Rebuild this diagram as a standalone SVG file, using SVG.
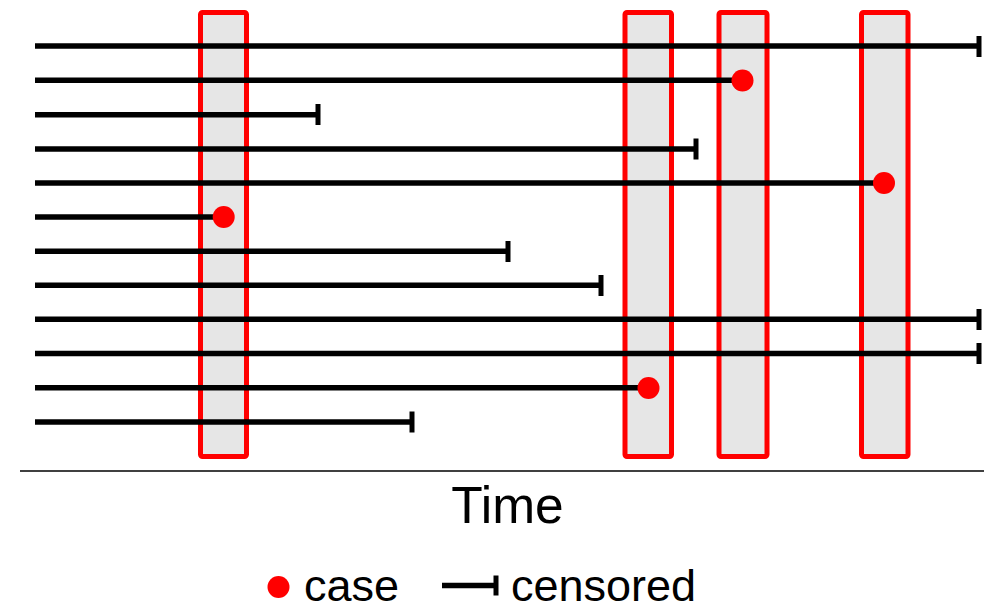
<svg xmlns="http://www.w3.org/2000/svg" width="984" height="611" viewBox="0 0 984 611">
<style>
.win{fill:#e6e6e6;stroke:#ff0000;stroke-width:5}
.ln{stroke:#000;stroke-width:5.5;fill:none}
.tick{stroke:#000;stroke-width:5}
.case{fill:#ff0000}
.t{font-family:"Liberation Sans",Arial,sans-serif;fill:#000}
</style>
<rect width="984" height="611" fill="#fff"/>
<g id="windows">
<rect id="w1" class="win" x="200.5" y="12.5" width="46" height="444" rx="2"/>
<rect id="w2" class="win" x="625" y="12.5" width="46.5" height="444" rx="2"/>
<rect id="w3" class="win" x="719" y="12.5" width="48" height="444" rx="2"/>
<rect id="w4" class="win" x="861.5" y="12.5" width="46.5" height="444" rx="2"/>
</g>
<g id="connectors">
<line class="ln" x1="35" y1="46" x2="979" y2="46"/>
<line class="ln" x1="35" y1="80.2" x2="742.5" y2="80.2"/>
<line class="ln" x1="35" y1="114.8" x2="318" y2="114.8"/>
<line class="ln" x1="35" y1="149" x2="696" y2="149"/>
<line class="ln" x1="35" y1="183" x2="884" y2="183"/>
<line class="ln" x1="35" y1="217" x2="223.7" y2="217"/>
<line class="ln" x1="35" y1="251.3" x2="508" y2="251.3"/>
<line class="ln" x1="35" y1="285.3" x2="601" y2="285.3"/>
<line class="ln" x1="35" y1="319.3" x2="979" y2="319.3"/>
<line class="ln" x1="35" y1="353.5" x2="979" y2="353.5"/>
<line class="ln" x1="35" y1="387.8" x2="648.5" y2="387.8"/>
<line class="ln" x1="35" y1="422" x2="412" y2="422"/>
</g>
<g id="censors">
<line class="tick" x1="979" y1="36" x2="979" y2="57"/>
<line class="tick" x1="318" y1="104" x2="318" y2="125"/>
<line class="tick" x1="696" y1="138.5" x2="696" y2="159.5"/>
<line class="tick" x1="508" y1="241" x2="508" y2="262"/>
<line class="tick" x1="601" y1="275" x2="601" y2="296"/>
<line class="tick" x1="979" y1="309" x2="979" y2="330"/>
<line class="tick" x1="979" y1="343" x2="979" y2="364"/>
<line class="tick" x1="412" y1="411.5" x2="412" y2="432.5"/>
</g>
<g id="cases">
<circle class="case" cx="742.5" cy="80.5" r="11"/>
<circle class="case" cx="884" cy="183" r="11"/>
<circle class="case" cx="223.7" cy="217" r="11"/>
<circle class="case" cx="648.5" cy="388" r="11"/>
</g>
<g id="axis">
<line x1="20" y1="471" x2="984" y2="471" stroke="#000" stroke-width="1.5"/>
<text class="t" x="507.5" y="523" font-size="51.5" text-anchor="middle">Time</text>
</g>
<g id="legend">
<circle class="case" cx="278.5" cy="587" r="11"/>
<text class="t" x="304" y="601" font-size="45">case</text>
<line class="ln" x1="442" y1="585.5" x2="496" y2="585.5"/>
<line class="tick" x1="496" y1="575.5" x2="496" y2="595.5"/>
<text class="t" x="511" y="601" font-size="45">censored</text>
</g>
</svg>
